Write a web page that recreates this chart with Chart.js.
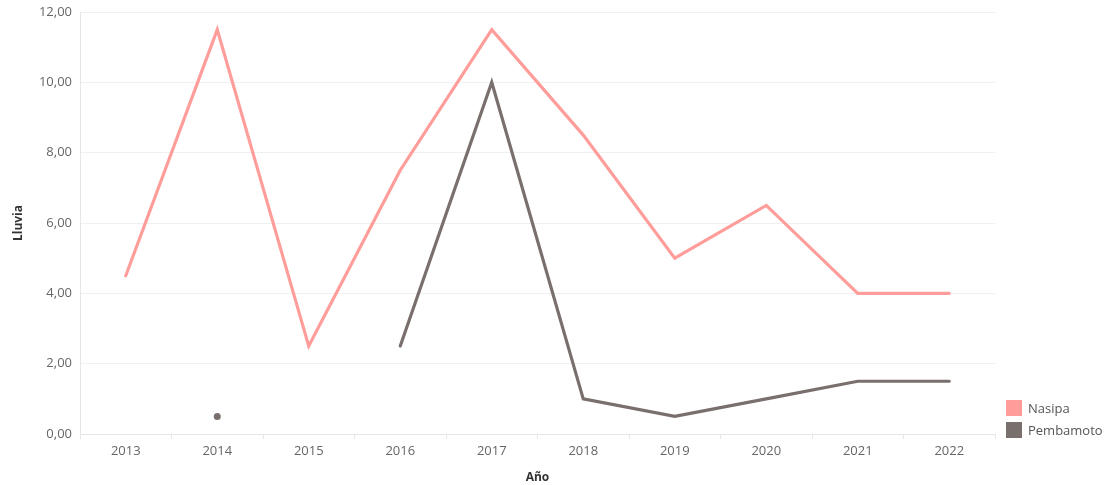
<!DOCTYPE html>
<html>
  <head>
    <meta charset="utf-8">
    <title>Lluvia por año</title>
    <script src="https://cdn.jsdelivr.net/npm/chart.js"></script>
    <style>
      body { margin: 0; background: #fff; font-family: "Open Sans", sans-serif; }
      #wrap { position: relative; width: 1107px; height: 485px; }
      #legend { position: absolute; left: 1006px; top: 397px; font-size: 13px; color: #555; }
      #legend div { display: flex; align-items: center; height: 22px; }
      #legend span { display: inline-block; width: 16px; height: 16px; margin-right: 6px; }
    </style>
  </head>
  <body>
    <div id="wrap">
      <canvas id="rainChart" width="1107" height="485"></canvas>
      <div id="legend"></div>
    </div>

    <script>
      const years = ["2013", "2014", "2015", "2016", "2017", "2018", "2019", "2020", "2021", "2022"];
      const nasipa = [4.5, 11.5, 2.5, 7.5, 11.5, 8.5, 5.0, 6.5, 4.0, 4.0];
      const pembamoto = [null, 0.5, null, 2.5, 10.0, 1.0, 0.5, 1.0, 1.5, 1.5];
      const yTicks = [0, 2, 4, 6, 8, 10, 12];

      const colors = { Nasipa: "#ff9d9a", Pembamoto: "#79706e" };

      // show a dot only where a point has no neighbours to draw a line to
      function lonePoint(ctx) {
        const d = ctx.dataset.data;
        const i = ctx.dataIndex;
        if (d[i] == null) return 0;
        const prev = i > 0 ? d[i - 1] : null;
        const next = i < d.length - 1 ? d[i + 1] : null;
        return prev == null && next == null ? 3.5 : 0;
      }

      const fmt = (v) => v.toFixed(2).replace(".", ",");

      const ctx = document.getElementById("rainChart").getContext("2d");
      new Chart(ctx, {
        type: "line",
        data: {
          labels: years,
          datasets: [
            {
              label: "Nasipa",
              data: nasipa,
              borderColor: colors.Nasipa,
              backgroundColor: colors.Nasipa,
              borderWidth: 3.2,
              borderCapStyle: "round",
              pointRadius: lonePoint,
              pointBorderWidth: 0,
              pointHoverRadius: 4,
            },
            {
              label: "Pembamoto",
              data: pembamoto,
              borderColor: colors.Pembamoto,
              backgroundColor: colors.Pembamoto,
              borderWidth: 3.2,
              borderCapStyle: "round",
              pointRadius: lonePoint,
              pointBorderWidth: 0,
              pointHoverRadius: 4,
            },
          ],
        },
        options: {
          responsive: false,
          animation: false,
          layout: { padding: { top: 12, right: 112, bottom: 0, left: 0 } },
          plugins: {
            legend: { display: false },
            tooltip: { enabled: true },
          },
          scales: {
            x: {
              offset: true,
              grid: {
                display: true,
                offset: true,
                drawOnChartArea: false,
                tickLength: 5,
                color: "#e6e6e6",
              },
              border: { color: "#e6e6e6" },
              ticks: {
                color: "#666",
                font: { family: "Open Sans", size: 13 },
                padding: 4,
                maxRotation: 0,
              },
              title: {
                display: true,
                text: "Año",
                color: "#333",
                font: { family: "Open Sans", size: 12, weight: "bold" },
                padding: { top: 6, bottom: 0 },
              },
              afterFit: (scale) => { scale.height = 51; },
            },
            y: {
              min: 0,
              max: 12,
              afterBuildTicks: (scale) => {
                scale.ticks = yTicks.map((v) => ({ value: v }));
              },
              grid: { color: "#f0f0f0", drawTicks: false },
              border: { color: "#e6e6e6" },
              ticks: {
                color: "#666",
                font: { family: "Open Sans", size: 13 },
                padding: 8,
                callback: (v) => fmt(v),
              },
              title: {
                display: true,
                text: "Lluvia",
                color: "#333",
                font: { family: "Open Sans", size: 12, weight: "bold" },
                padding: { top: 11, bottom: 8 },
              },
              afterFit: (scale) => {
                scale.width = 80;
                scale.paddingTop = 0;
                scale.paddingBottom = 0;
              },
            },
          },
        },
      });

      const legend = document.getElementById("legend");
      Object.keys(colors).forEach((name) => {
        const row = document.createElement("div");
        row.innerHTML = '<span style="background:' + colors[name] + '"></span>' + name;
        legend.appendChild(row);
      });
    </script>
  </body>
</html>
